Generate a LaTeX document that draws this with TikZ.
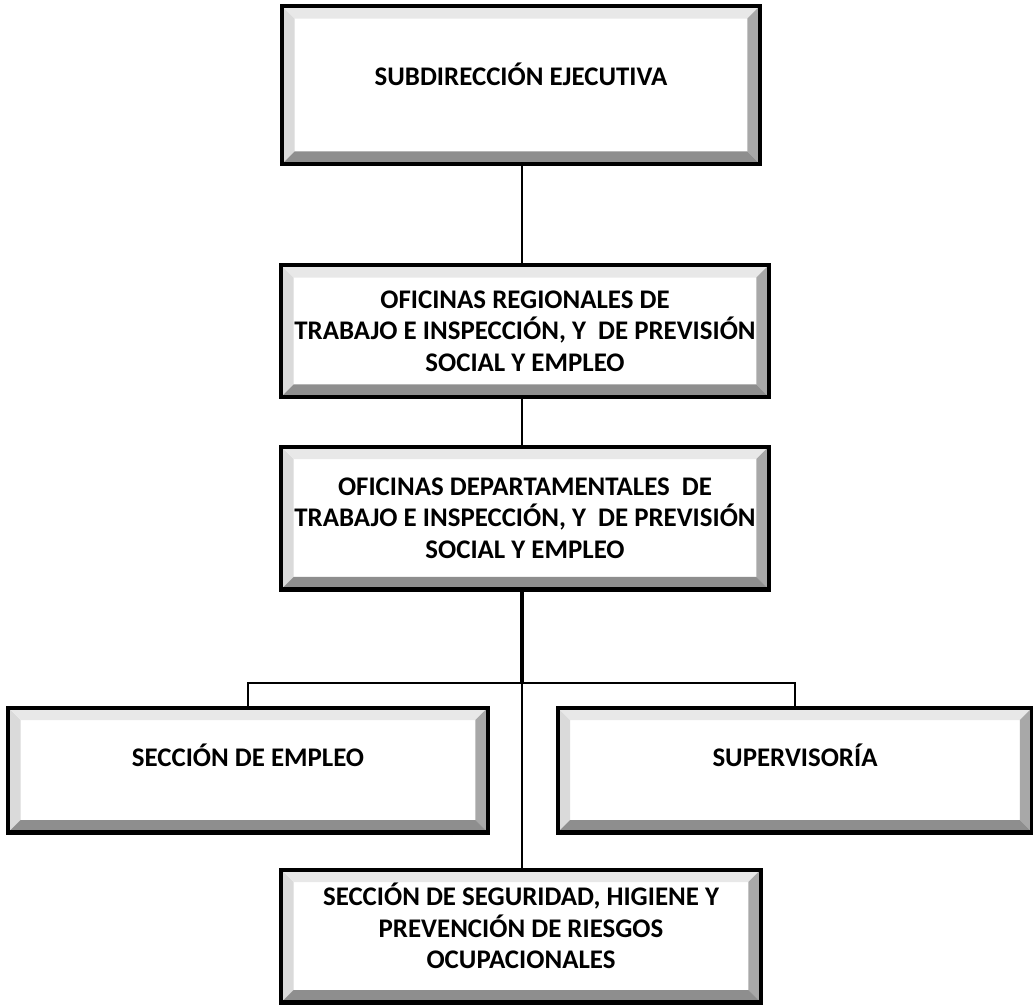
\documentclass[tikz,border=0pt]{standalone}
\usepackage{fontspec}
\setmainfont{Carlito}
\usepackage{xcolor}
\usepackage{tikz}
\usetikzlibrary{calc,positioning}

\definecolor{bevlight}{HTML}{DADADA}
\definecolor{bevtop}{HTML}{E8E8E8}
\definecolor{bevright}{HTML}{A8A8A8}
\definecolor{bevdark}{HTML}{8E8E8E}
\newcommand{\bvw}{0.25cm}

\tikzset{
  bevelbox/.style={draw,line width=2.3pt,fill=white,align=center,
    font=\bfseries\fontsize{15.3}{18}\selectfont,
    path picture={
      \coordinate (sw) at (path picture bounding box.south west);
      \coordinate (ne) at (path picture bounding box.north east);
      \coordinate (nw) at (sw|-ne);
      \coordinate (se) at (ne|-sw);
      \fill[bevlight] (sw) -- (nw) -- ($(nw)+(\bvw,-\bvw)$) -- ($(sw)+(\bvw,\bvw)$) -- cycle;
      \fill[bevtop] (nw) -- (ne) -- ($(ne)+(-\bvw,-\bvw)$) -- ($(nw)+(\bvw,-\bvw)$) -- cycle;
      \fill[bevright] (ne) -- (se) -- ($(se)+(-\bvw,\bvw)$) -- ($(ne)+(-\bvw,-\bvw)$) -- cycle;
      \fill[bevdark] (sw) -- (se) -- ($(se)+(-\bvw,\bvw)$) -- ($(sw)+(\bvw,\bvw)$) -- cycle;
    }},
  link/.style={draw,line width=1.6pt}
}

\begin{document}
\begin{tikzpicture}[x=0.02cm,y=-0.02cm]
  \useasboundingbox (0,0) rectangle (1033,1007);
  % top level
  \node[bevelbox,minimum width=9.56cm,minimum height=3.16cm,text depth=0.45cm] (subdir) at (521,85) {SUBDIRECCIÓN EJECUTIVA};
  % regional and departmental offices
  \node[bevelbox,minimum width=9.76cm,minimum height=2.64cm] (regional) at (525,331)
    {OFICINAS REGIONALES DE\\TRABAJO E INSPECCIÓN, Y\ \ DE PREVISIÓN\\SOCIAL Y EMPLEO};
  \node[bevelbox,minimum width=9.76cm,minimum height=2.86cm] (depto) at (525,518)
    {OFICINAS DEPARTAMENTALES\ \ DE\\TRABAJO E INSPECCIÓN, Y\ \ DE PREVISIÓN\\SOCIAL Y EMPLEO};
  % sections
  \node[bevelbox,minimum width=9.6cm,minimum height=2.5cm,text depth=0.6cm] (empleo) at (248,770) {SECCIÓN DE EMPLEO};
  \node[bevelbox,minimum width=9.5cm,minimum height=2.5cm,text depth=0.6cm] (superv) at (795,770) {SUPERVISORÍA};
  \node[bevelbox,minimum width=9.6cm,minimum height=2.66cm,text depth=0.4cm] (seguridad) at (521,936)
    {SECCIÓN DE SEGURIDAD, HIGIENE Y\\PREVENCIÓN DE RIESGOS\\OCUPACIONALES};
  % connectors
  \coordinate (fork) at (522,683);
  \draw[link] (subdir.south-|fork) -- (regional.north-|fork);
  \draw[link,line width=1.1pt] (regional.south-|fork) -- (depto.north-|fork);
  \draw[link,line width=2.3pt] (depto.south-|fork) -- (fork);
  \draw[link,line width=1.3pt] (fork) -- (seguridad.north-|fork);
  \draw[link,line width=1.5pt] (empleo.north) |- (fork) -| (superv.north);
\end{tikzpicture}
\end{document}
